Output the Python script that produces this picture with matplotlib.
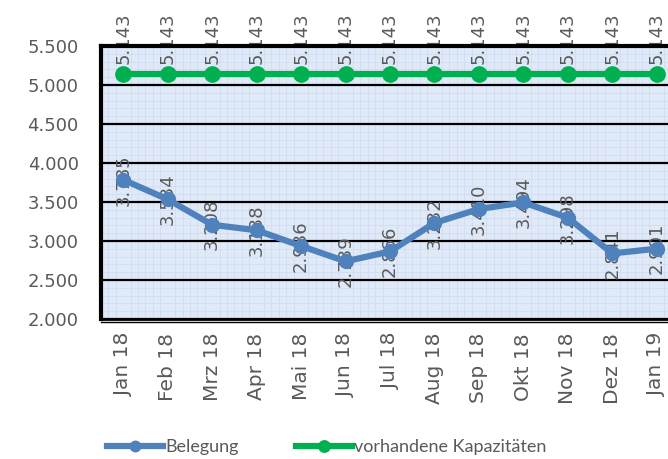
import matplotlib
matplotlib.use("Agg")
import matplotlib.pyplot as plt
import numpy as np
from matplotlib.ticker import MultipleLocator, FuncFormatter

months = ["Jan 18", "Feb 18", "Mrz 18", "Apr 18", "Mai 18", "Jun 18", "Jul 18",
          "Aug 18", "Sep 18", "Okt 18", "Nov 18", "Dez 18", "Jan 19"]
belegung = [3785, 3534, 3208, 3138, 2936, 2739, 2866, 3232, 3410, 3494, 3298, 2841, 2901]
kapazitaet = [5143] * 13

plt.rcParams["font.family"] = ["DejaVu Sans"]
TXT = "#595959"
BLUE = "#4F81BD"
GREEN = "#00B050"

def de_fmt(v):
    return f"{v:,.0f}".replace(",", ".")

fig = plt.figure(figsize=(6.68, 4.59), dpi=100)
ax = fig.add_axes([101/668, 1-319/459, 578/668, 273/459])
ax.set_facecolor("#DFE9F7")
x = np.arange(len(months))

ax.set_xlim(-0.5, len(months) - 0.5)
ax.set_ylim(2000, 5500)
ax.yaxis.set_major_locator(MultipleLocator(500))
ax.yaxis.set_minor_locator(MultipleLocator(100))
ax.xaxis.set_minor_locator(MultipleLocator(1/6))
ax.grid(which="minor", color="#D0DEF1", linewidth=0.6, zorder=0)
ax.grid(which="major", axis="y", color="black", linewidth=1.6, zorder=1)
ax.set_axisbelow(True)

for xi, v in zip(x, belegung):
    ax.text(xi, v, de_fmt(v), rotation=90, ha="center", va="center",
            fontsize=13, color=TXT, zorder=2)
for xi, v in zip(x, kapazitaet):
    ax.annotate(de_fmt(v), (xi, v), xytext=(0, 7), textcoords="offset points",
                rotation=90, ha="center", va="bottom", fontsize=13, color=TXT,
                zorder=2, annotation_clip=False)

ax.plot(x, belegung, color=BLUE, lw=4.5, marker="o", ms=10, zorder=3, label="Belegung",
        solid_joinstyle="round")
ax.plot(x, kapazitaet, color=GREEN, lw=4.5, marker="o", ms=11, zorder=3,
        label="vorhandene Kapazitäten")

ax.set_xticks(x)
ax.set_xticklabels(months, rotation=90, fontsize=14.5, color=TXT, va="top")
ax.yaxis.set_major_formatter(FuncFormatter(lambda v, p: de_fmt(v)))
ax.tick_params(axis="y", which="both", length=0, labelsize=13, labelcolor=TXT, pad=16)
ax.tick_params(axis="x", which="both", length=0, pad=10)

for side in ["left", "top"]:
    ax.spines[side].set_linewidth(3)
    ax.spines[side].set_color("black")
ax.spines["bottom"].set_linewidth(2)
ax.spines["right"].set_visible(False)
fig.lines.append(plt.Line2D([101/668, 1], [1-322/459, 1-322/459], color="black", lw=1,
                            transform=fig.transFigure))

leg = fig.legend(loc="center", bbox_to_anchor=(327/668, 1-447/459), ncol=2, frameon=False,
                 handlelength=3.1, handletextpad=0.1, columnspacing=3.2, markerscale=0.75,
                 prop={"family": "Lato", "size": 13})
for t in leg.get_texts():
    t.set_color(TXT)

fig.savefig("out.png", dpi=100)
